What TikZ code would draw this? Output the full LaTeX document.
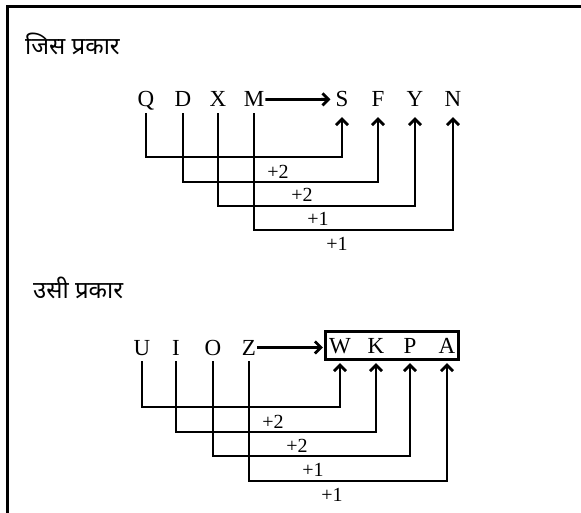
\documentclass[tikz,border=0pt]{standalone}
\usepackage{fontspec}
\setmainfont{Liberation Serif}
\newfontfamily\hindi[Script=Devanagari]{Noto Sans}
\usetikzlibrary{arrows.meta,fit}
\begin{document}
\begin{tikzpicture}[x=1pt,y=-1pt,
  letter/.style={font=\fontsize{23}{23}\selectfont, anchor=base, inner xsep=1pt, inner ysep=6pt, text depth=0pt},
  lbl/.style={font=\fontsize{20}{20}\selectfont, inner sep=0pt},
  title/.style={font=\hindi\fontsize{24}{24}\selectfont, anchor=base west, inner sep=0pt},
  link/.style={line width=2.8pt, -{Straight Barb[length=6pt,width=12pt,line width=2.8pt]}, shorten >=4pt},
  frame/.style={line width=3.5pt}
]
\useasboundingbox (0,0) rectangle (581,513);
\draw[frame] (7.5,513) -- (7.5,6.5) -- (581,6.5);

% first group
\node[title] (t1) at (25,55) {जिस प्रकार};
\node[letter] (Q) at (146,107) {Q};
\node[letter] (D) at (183,107) {D};
\node[letter] (X) at (218,107) {X};
\node[letter] (M) at (254,107) {M};
\node[letter] (S) at (342,107) {S};
\node[letter] (F) at (378,107) {F};
\node[letter] (Y) at (415,107) {Y};
\node[letter] (N) at (453,107) {N};
\coordinate (h1) at (0,157);
\coordinate (h2) at (0,182);
\coordinate (h3) at (0,206);
\coordinate (h4) at (0,230);
\draw[link] (M.east) -- (S.west);
\draw[link] (Q.south) -- (Q.south |- h1) -| (S.south);
\draw[link] (D.south) -- (D.south |- h2) -| (F.south);
\draw[link] (X.south) -- (X.south |- h3) -| (Y.south);
\draw[link] (M.south) -- (M.south |- h4) -| (N.south);
\node[lbl] (a1) at (278,172) {+2};
\node[lbl] (a2) at (302,195) {+2};
\node[lbl] (a3) at (318,219) {+1};
\node[lbl] (a4) at (337,244) {+1};

% second group
\node[title] (t2) at (33,298) {उसी प्रकार};
\node[letter] (U) at (142,355) {U};
\node[letter] (I) at (176,355) {I};
\node[letter] (O) at (213,355) {O};
\node[letter] (Z) at (249,355) {Z};
\node[letter] (W) at (340,353) {W};
\node[letter] (K) at (376,353) {K};
\node[letter] (P) at (410,353) {P};
\node[letter] (A) at (447,353) {A};
\node[draw, line width=3pt, fit=(W)(A), inner ysep=0pt, inner xsep=2pt] (box) {};
\coordinate (g1) at (0,407);
\coordinate (g2) at (0,432);
\coordinate (g3) at (0,456);
\coordinate (g4) at (0,481);
\draw[link, shorten >=1.5pt] (Z.east) -- (box.west |- Z.east);
\draw[link] (U.south) -- (U.south |- g1) -| (W.south);
\draw[link] (I.south) -- (I.south |- g2) -| (K.south);
\draw[link] (O.south) -- (O.south |- g3) -| (P.south);
\draw[link] (Z.south) -- (Z.south |- g4) -| (A.south);
\node[lbl] (b1) at (273,422) {+2};
\node[lbl] (b2) at (297,446) {+2};
\node[lbl] (b3) at (313,470) {+1};
\node[lbl] (b4) at (332,495) {+1};
\end{tikzpicture}
\end{document}
